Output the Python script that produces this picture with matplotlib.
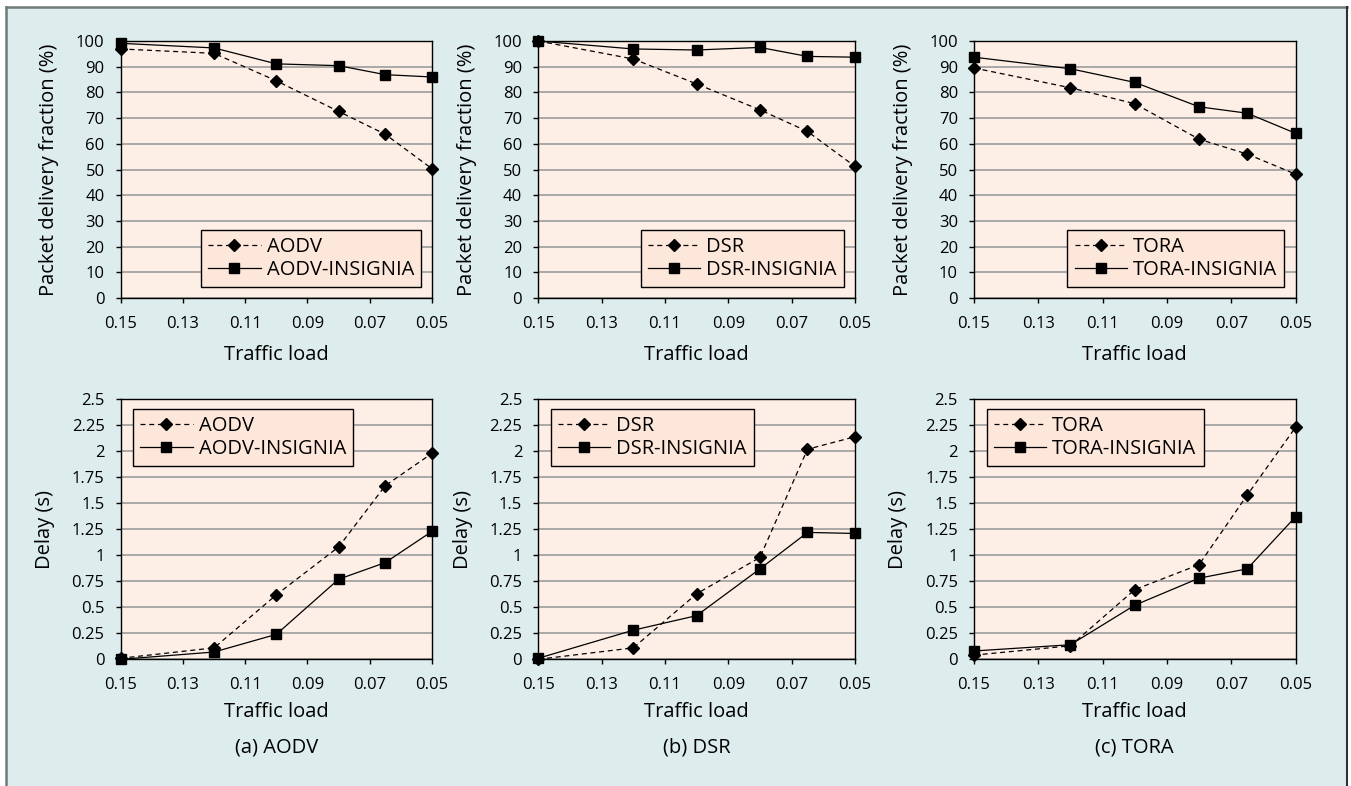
import matplotlib
matplotlib.use('Agg')
import matplotlib.pyplot as plt
from matplotlib.patches import Rectangle
from matplotlib.lines import Line2D

plt.rcParams['font.family'] = ['Open Sans', 'DejaVu Sans']

# traffic load values (x axis runs from 0.15 down to 0.05)
traffic = [0.15, 0.12, 0.10, 0.08, 0.065, 0.05]
x_ticks = [0.15, 0.13, 0.11, 0.09, 0.07, 0.05]
x_ticklabels = ['0.15', '0.13', '0.11', '0.09', '0.07', '0.05']

protocols = ['AODV', 'DSR', 'TORA']
captions = ['(a) AODV', '(b) DSR', '(c) TORA']

# packet delivery fraction (%)
pdf_aodv = [96.9, 95.2, 84.5, 72.6, 63.7, 50.3]
pdf_aodv_ins = [99.1, 97.3, 91.1, 90.4, 86.9, 86.0]
pdf_dsr = [100.0, 93.0, 83.3, 73.2, 64.8, 51.2]
pdf_dsr_ins = [100.0, 96.9, 96.5, 97.5, 94.0, 93.7]
pdf_tora = [89.5, 81.8, 75.6, 61.8, 56.0, 48.2]
pdf_tora_ins = [93.7, 89.2, 83.9, 74.4, 71.9, 64.1]

# delay (s)
delay_aodv = [0.01, 0.11, 0.62, 1.08, 1.67, 1.98]
delay_aodv_ins = [0.0, 0.07, 0.24, 0.77, 0.93, 1.23]
delay_dsr = [0.0, 0.11, 0.63, 0.98, 2.02, 2.14]
delay_dsr_ins = [0.01, 0.28, 0.42, 0.87, 1.22, 1.21]
delay_tora = [0.04, 0.13, 0.67, 0.91, 1.58, 2.23]
delay_tora_ins = [0.08, 0.14, 0.52, 0.78, 0.87, 1.37]

pdf_data = [(pdf_aodv, pdf_aodv_ins), (pdf_dsr, pdf_dsr_ins), (pdf_tora, pdf_tora_ins)]
delay_data = [(delay_aodv, delay_aodv_ins), (delay_dsr, delay_dsr_ins), (delay_tora, delay_tora_ins)]

pdf_ticks = list(range(0, 101, 10))
delay_ticks = [0, 0.25, 0.5, 0.75, 1, 1.25, 1.5, 1.75, 2, 2.25, 2.5]
delay_ticklabels = ['0', '0.25', '0.5', '0.75', '1', '1.25', '1.5', '1.75', '2', '2.25', '2.5']

bg = '#ddeded'
plot_bg = '#fdeee6'
legend_bg = '#fde6da'
grid_c = '#a3a3a3'

W, H = 1351, 786
fig = plt.figure(figsize=(W / 100, H / 100), dpi=100, facecolor='white')

# light cyan panel with a gray frame on top and left
fig.patches.append(Rectangle((6 / W, 0), 1341 / W, 1 - 7 / H, transform=fig.transFigure,
                             facecolor=bg, edgecolor='none', zorder=-10))
fig.lines.append(Line2D([6 / W, 1347 / W], [1 - 7 / H, 1 - 7 / H], transform=fig.transFigure,
                        color='#6f7b7b', lw=1.8))
fig.lines.append(Line2D([6 / W, 6 / W], [0, 1 - 7 / H], transform=fig.transFigure,
                        color='#6f7b7b', lw=1.8))
fig.lines.append(Line2D([1347 / W, 1347 / W], [0, 1 - 7 / H], transform=fig.transFigure,
                        color='#2a3434', lw=1.5))

lefts = [120.7, 538.3, 974.0]
widths = [311.3, 316.7, 321.5]

tick_fs = 12
label_fs = 14.5


def style_axes(ax, yticks, yticklabels, ylim, xpad):
    ax.set_facecolor(plot_bg)
    ax.set_xlim(0.15, 0.05)
    ax.set_ylim(*ylim)
    ax.set_xticks(x_ticks)
    ax.set_xticklabels(x_ticklabels, fontsize=tick_fs)
    ax.set_yticks(yticks)
    ax.set_yticklabels(yticklabels, fontsize=tick_fs)
    ax.tick_params(direction='out', length=3.6, width=1)
    ax.tick_params(axis='x', pad=9)
    ax.tick_params(axis='y', pad=8)
    ax.yaxis.grid(True, color=grid_c, lw=1.3)
    ax.set_axisbelow(True)
    for s in ax.spines.values():
        s.set_color('black')
        s.set_linewidth(1)
    ax.set_xlabel('Traffic load', fontsize=label_fs, labelpad=xpad)


def add_legend(ax, loc, anchor):
    leg = ax.legend(loc=loc, bbox_to_anchor=anchor, fontsize=label_fs,
                    fancybox=False, framealpha=1, facecolor=legend_bg, edgecolor='black',
                    handlelength=2.6, borderpad=0.35, labelspacing=0.15, handletextpad=0.3,
                    borderaxespad=0)
    leg.get_frame().set_linewidth(1)


for i in range(3):
    l = lefts[i] / W
    w = widths[i] / W

    # top row: packet delivery fraction
    ax = fig.add_axes([l, 1 - 298 / H, w, 257 / H])
    style_axes(ax, pdf_ticks, [str(t) for t in pdf_ticks], (0, 100), 10)
    base, ins = pdf_data[i]
    ax.plot(traffic, base, color='black', lw=0.9, ls=(0, (4, 3)), marker='D', ms=6.5,
            label=protocols[i], clip_on=False, zorder=3)
    ax.plot(traffic, ins, color='black', lw=0.9, marker='s', ms=7,
            label=protocols[i] + '-INSIGNIA', clip_on=False, zorder=3)
    ax.set_ylabel('Packet delivery fraction (%)', fontsize=label_fs, labelpad=12)
    add_legend(ax, 'lower right', (0.965, 0.043))

    # bottom row: delay
    ax2 = fig.add_axes([l, 1 - 659.3 / H, w, 260 / H])
    style_axes(ax2, delay_ticks, delay_ticklabels, (0, 2.5), 6.5)
    base, ins = delay_data[i]
    ax2.plot(traffic, base, color='black', lw=0.9, ls=(0, (4, 3)), marker='D', ms=6.5,
             label=protocols[i], clip_on=False, zorder=3)
    ax2.plot(traffic, ins, color='black', lw=0.9, marker='s', ms=7,
             label=protocols[i] + '-INSIGNIA', clip_on=False, zorder=3)
    ax2.set_ylabel('Delay (s)', fontsize=label_fs, labelpad=12)
    add_legend(ax2, 'upper left', (0.04, 0.963))

    fig.text(l + w / 2, 1 - 747 / H, captions[i], ha='center', va='center', fontsize=label_fs)

fig.savefig('out.png', dpi=100, facecolor='white')
